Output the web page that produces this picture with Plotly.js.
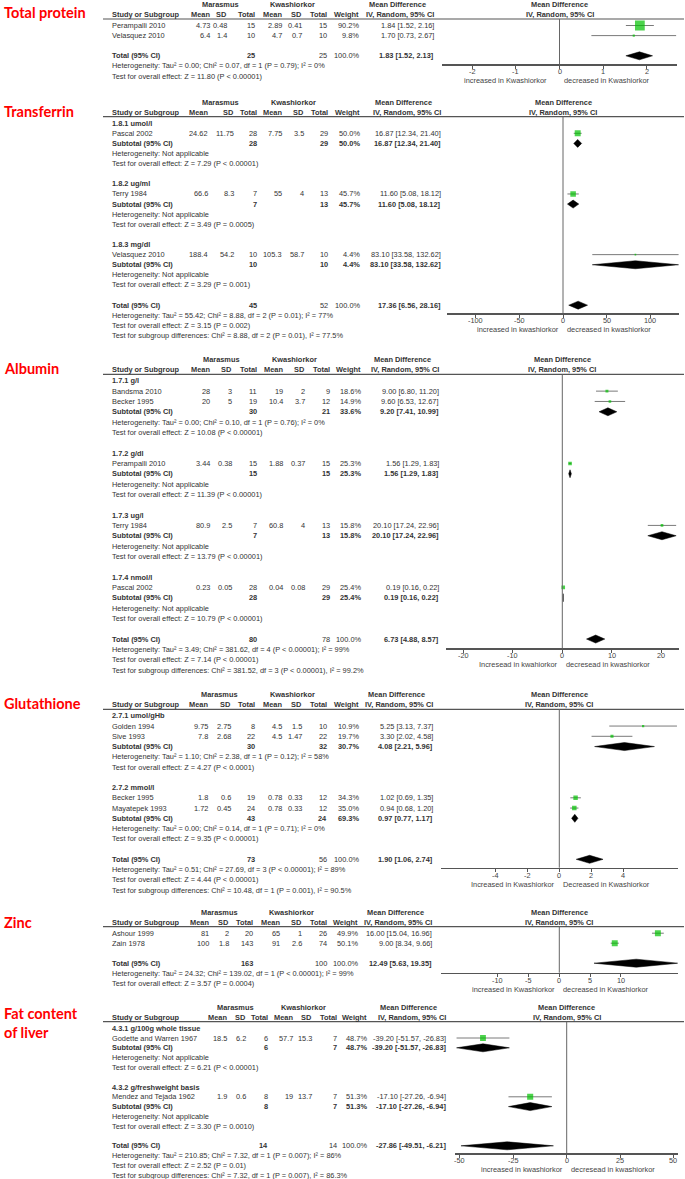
<!DOCTYPE html>
<html><head><meta charset="utf-8">
<script src="https://cdn.plot.ly/plotly-3.0.1.min.js"></script>
<style>html,body{margin:0;padding:0;background:#fff}#chart{width:685px;height:1179px}</style>
</head><body><div id="chart"></div>
<script>
// ---------------- DATA ----------------
// Total protein
const tpStudy = ["Perampalli 2010", "Velasquez 2010"];
const tpMarMean = [4.73, 6.4], tpMarSD = [0.48, 1.4], tpMarN = [15, 10];
const tpKwMean = [2.89, 4.7], tpKwSD = [0.41, 0.7], tpKwN = [15, 10];
const tpWeight = [90.2, 9.8];
const tpMD = [1.84, 1.70], tpLo = [1.52, 0.73], tpHi = [2.16, 2.67];
const tpTotal = [1.83, 1.52, 2.13];
const tpTotalText = ["Heterogeneity: Tau² = 0.00; Chi² = 0.07, df = 1 (P = 0.79); I² = 0%",
  "Test for overall effect: Z = 11.80 (P &lt; 0.00001)"];
const tpTicks = [-2, -1, 0, 1, 2];
const tpDir = ["increased in Kwashiorkor", "decreased in Kwashiorkor"];

// Transferrin
const tfGroups = ["1.8.1 umol/l", "1.8.2 ug/ml", "1.8.3 mg/dl"];
const tfStudy = ["Pascal 2002", "Terry 1984", "Velasquez 2010"];
const tfStudyGroup = [0, 1, 2];
const tfMarMean = [24.62, 66.6, 188.4], tfMarSD = [11.75, 8.3, 54.2], tfMarN = [28, 7, 10];
const tfKwMean = [7.75, 55, 105.3], tfKwSD = [3.5, 4, 58.7], tfKwN = [29, 13, 10];
const tfWeight = [50.0, 45.7, 4.4];
const tfMD = [16.87, 11.60, 83.10], tfLo = [12.34, 5.08, 33.58], tfHi = [21.40, 18.12, 132.62];
const tfSubMD = [16.87, 11.60, 83.10], tfSubLo = [12.34, 5.08, 33.58], tfSubHi = [21.40, 18.12, 132.62];
const tfSubW = [50.0, 45.7, 4.4];
const tfSubHet = ["Heterogeneity: Not applicable", "Heterogeneity: Not applicable", "Heterogeneity: Not applicable"];
const tfSubTest = ["Test for overall effect: Z = 7.29 (P &lt; 0.00001)", "Test for overall effect: Z = 3.49 (P = 0.0005)",
  "Test for overall effect: Z = 3.29 (P = 0.001)"];
const tfTotal = [17.36, 6.56, 28.16];
const tfTotalText = ["Heterogeneity: Tau² = 55.42; Chi² = 8.88, df = 2 (P = 0.01); I² = 77%",
  "Test for overall effect: Z = 3.15 (P = 0.002)",
  "Test for subgroup differences: Chi² = 8.88, df = 2 (P = 0.01), I² = 77.5%"];
const tfTicks = [-100, -50, 0, 50, 100];
const tfDir = ["increased in kwashiorkor", "decreased in kwashiorkor"];

// Albumin
const alGroups = ["1.7.1 g/l", "1.7.2 g/dl", "1.7.3 ug/l", "1.7.4 nmol/l"];
const alStudy = ["Bandsma 2010", "Becker 1995", "Perampalli 2010", "Terry 1984", "Pascal 2002"];
const alStudyGroup = [0, 0, 1, 2, 3];
const alMarMean = [28, 20, 3.44, 80.9, 0.23], alMarSD = [3, 5, 0.38, 2.5, 0.05], alMarN = [11, 19, 15, 7, 28];
const alKwMean = [19, 10.4, 1.88, 60.8, 0.04], alKwSD = [2, 3.7, 0.37, 4, 0.08], alKwN = [9, 12, 15, 13, 29];
const alWeight = [18.6, 14.9, 25.3, 15.8, 25.4];
const alMD = [9.00, 9.60, 1.56, 20.10, 0.19], alLo = [6.80, 6.53, 1.29, 17.24, 0.16], alHi = [11.20, 12.67, 1.83, 22.96, 0.22];
const alSubMD = [9.20, 1.56, 20.10, 0.19], alSubLo = [7.41, 1.29, 17.24, 0.16], alSubHi = [10.99, 1.83, 22.96, 0.22];
const alSubW = [33.6, 25.3, 15.8, 25.4];
const alSubHet = ["Heterogeneity: Tau² = 0.00; Chi² = 0.10, df = 1 (P = 0.76); I² = 0%",
  "Heterogeneity: Not applicable", "Heterogeneity: Not applicable", "Heterogeneity: Not applicable"];
const alSubTest = ["Test for overall effect: Z = 10.08 (P &lt; 0.00001)", "Test for overall effect: Z = 11.39 (P &lt; 0.00001)",
  "Test for overall effect: Z = 13.79 (P &lt; 0.00001)", "Test for overall effect: Z = 10.79 (P &lt; 0.00001)"];
const alTotal = [6.73, 4.88, 8.57];
const alTotalText = ["Heterogeneity: Tau² = 3.49; Chi² = 381.62, df = 4 (P &lt; 0.00001); I² = 99%",
  "Test for overall effect: Z = 7.14 (P &lt; 0.00001)",
  "Test for subgroup differences: Chi² = 381.52, df = 3 (P &lt; 0.00001), I² = 99.2%"];
const alTicks = [-20, -10, 0, 10, 20];
const alDir = ["Incresead in kwahiorkor", "decresead in kwashiorkor"];

// Glutathione
const glGroups = ["2.7.1 umol/gHb", "2.7.2 mmol/l"];
const glStudy = ["Golden 1994", "Sive 1993", "Becker 1995", "Mayatepek 1993"];
const glStudyGroup = [0, 0, 1, 1];
const glMarMean = [9.75, 7.8, 1.8, 1.72], glMarSD = [2.75, 2.68, 0.6, 0.45], glMarN = [8, 22, 19, 24];
const glKwMean = [4.5, 4.5, 0.78, 0.78], glKwSD = [1.5, 1.47, 0.33, 0.33], glKwN = [10, 22, 12, 12];
const glWeight = [10.9, 19.7, 34.3, 35.0];
const glMD = [5.25, 3.30, 1.02, 0.94], glLo = [3.13, 2.02, 0.69, 0.68], glHi = [7.37, 4.58, 1.35, 1.20];
const glSubMD = [4.08, 0.97], glSubLo = [2.21, 0.77], glSubHi = [5.96, 1.17];
const glSubW = [30.7, 69.3];
const glSubHet = ["Heterogeneity: Tau² = 1.10; Chi² = 2.38, df = 1 (P = 0.12); I² = 58%",
  "Heterogeneity: Tau² = 0.00; Chi² = 0.14, df = 1 (P = 0.71); I² = 0%"];
const glSubTest = ["Test for overall effect: Z = 4.27 (P &lt; 0.0001)", "Test for overall effect: Z = 9.35 (P &lt; 0.00001)"];
const glTotal = [1.90, 1.06, 2.74];
const glTotalText = ["Heterogeneity: Tau² = 0.51; Chi² = 27.69, df = 3 (P &lt; 0.00001); I² = 89%",
  "Test for overall effect: Z = 4.44 (P &lt; 0.00001)",
  "Test for subgroup differences: Chi² = 10.48, df = 1 (P = 0.001), I² = 90.5%"];
const glTicks = [-4, -2, 0, 2, 4];
const glDir = ["Increased in Kwashiorkor", "Decreased in Kwashiorkor"];

// Zinc
const znStudy = ["Ashour 1999", "Zain 1978"];
const znMarMean = [81, 100], znMarSD = [2, 1.8], znMarN = [20, 143];
const znKwMean = [65, 91], znKwSD = [1, 2.6], znKwN = [26, 74];
const znWeight = [49.9, 50.1];
const znMD = [16.00, 9.00], znLo = [15.04, 8.34], znHi = [16.96, 9.66];
const znTotal = [12.49, 5.63, 19.35];
const znTotalText = ["Heterogeneity: Tau² = 24.32; Chi² = 139.02, df = 1 (P &lt; 0.00001); I² = 99%",
  "Test for overall effect: Z = 3.57 (P = 0.0004)"];
const znTicks = [-10, -5, 0, 5, 10];
const znDir = ["increased in Kwashiorkor", "decreased in Kwashiorkor"];

// Fat content of liver
const flGroups = ["4.3.1 g/100g whole tissue", "4.3.2 g/freshweight basis"];
const flStudy = ["Godette and Warren 1967", "Mendez and Tejada 1962"];
const flStudyGroup = [0, 1];
const flMarMean = [18.5, 1.9], flMarSD = [6.2, 0.6], flMarN = [6, 8];
const flKwMean = [57.7, 19], flKwSD = [15.3, 13.7], flKwN = [7, 7];
const flWeight = [48.7, 51.3];
const flMD = [-39.20, -17.10], flLo = [-51.57, -27.26], flHi = [-26.83, -6.94];
const flSubMD = [-39.20, -17.10], flSubLo = [-51.57, -27.26], flSubHi = [-26.83, -6.94];
const flSubW = [48.7, 51.3];
const flSubHet = ["Heterogeneity: Not applicable", "Heterogeneity: Not applicable"];
const flSubTest = ["Test for overall effect: Z = 6.21 (P &lt; 0.00001)", "Test for overall effect: Z = 3.30 (P = 0.0010)"];
const flTotal = [-27.86, -49.51, -6.21];
const flTotalText = ["Heterogeneity: Tau² = 210.85; Chi² = 7.32, df = 1 (P = 0.007); I² = 86%",
  "Test for overall effect: Z = 2.52 (P = 0.01)",
  "Test for subgroup differences: Chi² = 7.32, df = 1 (P = 0.007), I² = 86.3%"];
const flTicks = [-50, -25, 0, 25, 50];
const flDir = ["increased in kwashiorkor", "decresead in kwashiorkor"];

const panelTitles = ["Total protein", "Transferrin", "Albumin", "Glutathione", "Zinc", "Fat content<br>of liver"];

// ---------------- LAYOUT / BUILD ----------------
const W = 685, H = 1179;
const FONT = 'Liberation Sans, Arial, sans-serif';
const TFONT = 'Lato, Carlito, Calibri, sans-serif';
const TXT = '#333333';
const AXC = '#444444';
const FS = 7.4;
const py = px => 1 - px / H;

const panels = [
  {title: panelTitles[0], titleY: 12.8, headerLine: 19, pitch: 10.1, axisPx: 64.3, dom: [442, 677], R: 2.69, leftGap: 12,
   cols: [210.5, 228, 256, 282.5, 303.3, 328.3, 360.3, 435],
   study: tpStudy, mM: tpMarMean, mS: tpMarSD, mN: tpMarN, kM: tpKwMean, kS: tpKwSD, kN: tpKwN, w: tpWeight, md: tpMD, lo: tpLo, hi: tpHi,
   groups: null, total: tpTotal, totalText: tpTotalText, ticks: tpTicks, dir: tpDir},
  {title: panelTitles[1], titleY: 111.5, headerLine: 116.7, pitch: 10.11, axisPx: 313.3, dom: [447, 679], R: 133.1, leftGap: 3,
   cols: [208.7, 234.7, 258.3, 283.3, 305, 329.3, 361, 441.7],
   study: tfStudy, sg: tfStudyGroup, mM: tfMarMean, mS: tfMarSD, mN: tfMarN, kM: tfKwMean, kS: tfKwSD, kN: tfKwN, w: tfWeight, md: tfMD, lo: tfLo, hi: tfHi,
   groups: tfGroups, subMD: tfSubMD, subLo: tfSubLo, subHi: tfSubHi, subW: tfSubW, subHet: tfSubHet, subTest: tfSubTest,
   total: tfTotal, totalText: tfTotalText, ticks: tfTicks, dir: tfDir},
  {title: panelTitles[2], titleY: 368.8, headerLine: 374.3, pitch: 10.33, axisPx: 648.3, dom: [446, 678.6], R: 23.45, leftGap: 3,
   cols: [211, 233.3, 257.7, 284, 306, 330.7, 362.3, 440],
   study: alStudy, sg: alStudyGroup, mM: alMarMean, mS: alMarSD, mN: alMarN, kM: alKwMean, kS: alKwSD, kN: alKwN, w: alWeight, md: alMD, lo: alLo, hi: alHi,
   groups: alGroups, subMD: alSubMD, subLo: alSubLo, subHi: alSubHi, subW: alSubW, subHet: alSubHet, subTest: alSubTest,
   total: alTotal, totalText: alTotalText, ticks: alTicks, dir: alDir},
  {title: panelTitles[3], titleY: 703.8, headerLine: 709.3, pitch: 10.25, axisPx: 867.7, dom: [441, 677.6], R: 7.41, leftGap: 3,
   cols: [209.3, 231.7, 255.7, 282.7, 303.3, 328.3, 360, 434.3],
   study: glStudy, sg: glStudyGroup, mM: glMarMean, mS: glMarSD, mN: glMarN, kM: glKwMean, kS: glKwSD, kN: glKwN, w: glWeight, md: glMD, lo: glLo, hi: glHi,
   groups: glGroups, subMD: glSubMD, subLo: glSubLo, subHi: glSubHi, subW: glSubW, subHet: glSubHet, subTest: glSubTest,
   total: glTotal, totalText: glTotalText, ticks: glTicks, dir: glDir},
  {title: panelTitles[4], titleY: 922.2, headerLine: 926.7, pitch: 10.0, axisPx: 972.7, dom: [441, 677.6], R: 19.2, leftGap: 3,
   cols: [210, 230, 254, 280.7, 303.3, 327.7, 359, 433.3],
   study: znStudy, mM: znMarMean, mS: znMarSD, mN: znMarN, kM: znKwMean, kS: znKwSD, kN: znKwN, w: znWeight, md: znMD, lo: znLo, hi: znHi,
   groups: null, total: znTotal, totalText: znTotalText, ticks: znTicks, dir: znDir},
  {title: panelTitles[5], titleY: 1022.5, headerLine: 1021.7, pitch: 9.8, axisPx: 1153.3, dom: [455, 678.4], R: 52.3, leftGap: 3,
   cols: [228.3, 246.7, 269, 294, 313.3, 338.3, 368.3, 446.7],
   study: flStudy, sg: flStudyGroup, mM: flMarMean, mS: flMarSD, mN: flMarN, kM: flKwMean, kS: flKwSD, kN: flKwN, w: flWeight, md: flMD, lo: flLo, hi: flHi,
   groups: flGroups, subMD: flSubMD, subLo: flSubLo, subHi: flSubHi, subW: flSubW, subHet: flSubHet, subTest: flSubTest,
   total: flTotal, totalText: flTotalText, ticks: flTicks, dir: flDir}
];

const STUDY_X = 110.5;
const traces = [], annotations = [], shapes = [];
const layout = {
  width: W, height: H, autosize: false, margin: {l: 0, r: 0, t: 0, b: 0},
  paper_bgcolor: '#ffffff', plot_bgcolor: 'rgba(0,0,0,0)', showlegend: false,
  font: {family: FONT, size: FS, color: TXT}
};

const f2 = v => v.toFixed(2);
const ciText = (m, l, h) => f2(m) + ' [' + f2(l) + ', ' + f2(h) + ']';
const sqSize = w => 1.2 + 0.095 * w;
const sum = a => a.reduce((s, v) => s + v, 0);

panels.forEach((p, idx) => {
  const k = idx + 1;
  const sfx = k === 1 ? '' : String(k);
  const row0 = p.headerLine + 6.5;
  const rowPx = r => row0 + r * p.pitch;
  const c = p.cols;
  const T = (text, xpx, ypx, anchor, bold, extra) => annotations.push(Object.assign({
    xref: 'paper', yref: 'paper', x: xpx / W, y: py(ypx), text: bold ? '<b>' + text + '</b>' : text,
    xanchor: anchor, yanchor: 'middle', showarrow: false, borderpad: 0,
    font: {family: FONT, size: FS, color: TXT}
  }, extra || {}));

  // title
  annotations.push({xref: 'paper', yref: 'paper', x: 3 / W, y: py(p.titleY), xanchor: 'left', yanchor: 'middle',
    text: '<b>' + p.title + '</b>', showarrow: false, borderpad: 0, align: 'left',
    font: {family: TFONT, size: 14.5, color: '#ff0000'}});

  // headers
  const h1 = p.headerLine - 14.5, h2 = p.headerLine - 4.5;
  T('Marasmus', (c[0] - 20 + c[2]) / 2 - 3, h1, 'center', true);
  T('Kwashiorkor', (c[3] - 20 + c[5]) / 2 - 3, h1, 'center', true);
  T('Mean Difference', c[7] - 38, h1, 'center', true);
  T('Study or Subgroup', STUDY_X, h2, 'left', true);
  ['Mean', 'SD', 'Total', 'Mean', 'SD', 'Total', 'Weight', 'IV, Random, 95% CI'].forEach((t, i) => T(t, c[i], h2, 'right', true));
  const zeroPx = (p.dom[0] + p.dom[1]) / 2;
  T('Mean Difference', zeroPx, h1, 'center', true);
  T('IV, Random, 95% CI', zeroPx, h2, 'center', true);

  // rows
  const sqX = [], sqY = [], sqS = [], ciX = [], ciY = [], dX = [], dY = [];
  const hh = 4 / p.pitch;
  const diamond = (m, l, h, r) => { dX.push(l, m, h, m, l, null); dY.push(r, r - hh, r, r + hh, r, null); };
  const studyRow = (i, r) => {
    const y = rowPx(r);
    T(p.study[i], STUDY_X, y, 'left', false);
    [p.mM[i], p.mS[i], p.mN[i], p.kM[i], p.kS[i], p.kN[i]].forEach((v, j) => T(String(v), c[j], y, 'right', false));
    T(p.w[i].toFixed(1) + '%', c[6], y, 'right', false);
    T(ciText(p.md[i], p.lo[i], p.hi[i]), c[7], y, 'right', false);
    sqX.push(p.md[i]); sqY.push(r); sqS.push(sqSize(p.w[i]));
    ciX.push(p.lo[i], p.hi[i], null); ciY.push(r, r, null);
  };
  let r = 0;
  if (p.groups) {
    p.groups.forEach((g, gi) => {
      T(g, STUDY_X, rowPx(r), 'left', true); r++;
      const members = p.study.map((s, i) => i).filter(i => p.sg[i] === gi);
      members.forEach(i => { studyRow(i, r); r++; });
      const y = rowPx(r);
      T('Subtotal (95% CI)', STUDY_X, y, 'left', true);
      T(String(sum(members.map(i => p.mN[i]))), c[2], y, 'right', true);
      T(String(sum(members.map(i => p.kN[i]))), c[5], y, 'right', true);
      T(p.subW[gi].toFixed(1) + '%', c[6], y, 'right', true);
      T(ciText(p.subMD[gi], p.subLo[gi], p.subHi[gi]), c[7], y, 'right', true);
      diamond(p.subMD[gi], p.subLo[gi], p.subHi[gi], r);
      r++;
      T(p.subHet[gi], STUDY_X, rowPx(r), 'left', false); r++;
      T(p.subTest[gi], STUDY_X, rowPx(r), 'left', false); r++;
      r++;
    });
  } else {
    p.study.forEach((s, i) => { studyRow(i, r); r++; });
    r++;
  }
  const yT = rowPx(r);
  T('Total (95% CI)', STUDY_X, yT, 'left', true);
  T(String(sum(p.mN)), c[2], yT, 'right', true);
  T(String(sum(p.kN)), c[5], yT, 'right', false);
  T('100.0%', c[6], yT, 'right', false);
  T(ciText(p.total[0], p.total[1], p.total[2]), c[7], yT, 'right', true);
  diamond(p.total[0], p.total[1], p.total[2], r);
  r++;
  p.totalText.forEach(t => { T(t, STUDY_X, rowPx(r), 'left', false); r++; });

  // tick labels placed through the x axis scale
  p.ticks.forEach(tv => annotations.push({
    xref: 'x' + sfx, yref: 'paper', x: tv, y: py(p.axisPx + 7.3), text: String(tv),
    xanchor: 'center', yanchor: 'middle', showarrow: false, borderpad: 0,
    font: {family: FONT, size: 7.3, color: AXC}
  }));

  // direction labels
  const yd = p.axisPx + 16.6;
  T(p.dir[0], zeroPx - p.leftGap, yd, 'right', false, {font: {family: FONT, size: 7.4, color: AXC}});
  T(p.dir[1], zeroPx + 3, yd, 'left', false, {font: {family: FONT, size: 7.4, color: AXC}});

  // axes
  const topRow = (p.headerLine - row0) / p.pitch;
  const botRow = (p.axisPx - row0) / p.pitch;
  layout['xaxis' + sfx] = {
    domain: [p.dom[0] / W, p.dom[1] / W], range: [-p.R, p.R], anchor: 'y' + sfx,
    showline: true, linecolor: '#555', linewidth: 1.2, ticks: 'outside', ticklen: 3, tickwidth: 1, tickcolor: '#555',
    tickvals: p.ticks, showticklabels: false,
    showgrid: false, zeroline: false, fixedrange: true
  };
  layout['yaxis' + sfx] = {
    domain: [py(p.axisPx), py(p.headerLine)], range: [botRow, topRow], anchor: 'x' + sfx,
    visible: false, showgrid: false, zeroline: false, fixedrange: true
  };

  // lines
  shapes.push({type: 'line', xref: 'paper', yref: 'paper', x0: 103 / W, x1: 684 / W, y0: py(p.headerLine), y1: py(p.headerLine),
    line: {color: '#555', width: 1.2}});
  shapes.push({type: 'line', xref: 'x' + sfx, yref: 'paper', x0: 0, x1: 0, y0: py(p.axisPx), y1: py(p.headerLine),
    line: {color: '#666', width: 1}});

  // traces
  traces.push({type: 'scatter', mode: 'lines', x: ciX, y: ciY, xaxis: 'x' + sfx, yaxis: 'y' + sfx,
    line: {color: '#7a7a7a', width: 1}, hoverinfo: 'skip'});
  traces.push({type: 'scatter', mode: 'markers', x: sqX, y: sqY, xaxis: 'x' + sfx, yaxis: 'y' + sfx,
    marker: {symbol: 'square', size: sqS, color: '#00c000', line: {width: 0}}, hoverinfo: 'skip'});
  traces.push({type: 'scatter', mode: 'lines', x: dX, y: dY, xaxis: 'x' + sfx, yaxis: 'y' + sfx,
    fill: 'toself', fillcolor: '#000000', line: {color: '#000000', width: 0.5}, hoverinfo: 'skip'});
});

layout.annotations = annotations;
layout.shapes = shapes;
Plotly.newPlot('chart', traces, layout, {staticPlot: true, displayModeBar: false});
</script></body></html>
